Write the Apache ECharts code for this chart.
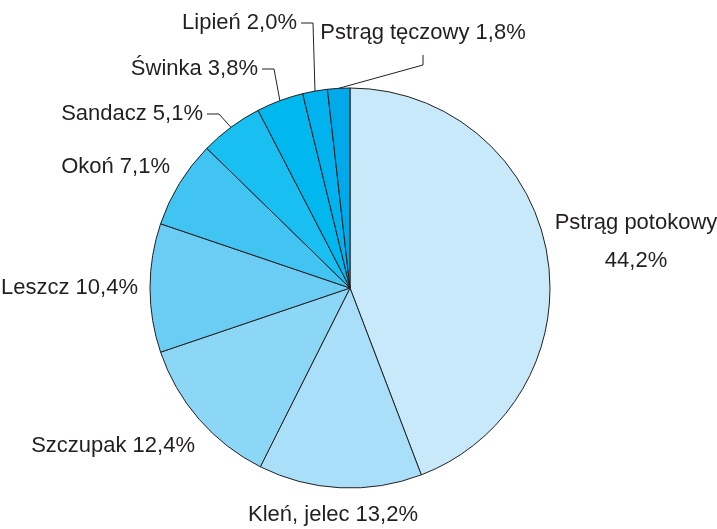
<!DOCTYPE html>
<html>
<head>
<meta charset="utf-8">
<script src="https://cdn.jsdelivr.net/npm/echarts@6/dist/echarts.min.js"></script>
<style>
  html, body { margin: 0; padding: 0; background: #fff; }
  #chart { width: 717px; height: 529px; }
</style>
</head>
<body>
<div id="chart"></div>
<script>
// kategorie i udziały (%)
const names = ['Pstrąg potokowy', 'Kleń, jelec', 'Szczupak', 'Leszcz', 'Okoń', 'Sandacz', 'Świnka', 'Lipień', 'Pstrąg tęczowy']
const values = [44.2, 13.2, 12.4, 10.4, 7.1, 5.1, 3.8, 2.0, 1.8]
const colors = ['#c7e9f9', '#a9dff8', '#8dd7f6', '#6ccdf4', '#42c4f2', '#18bff0', '#00b7ee', '#00b2ed', '#00a9ea']

// położenie etykiet: [x, y, align, leader]
const labelPos = [
  [636, 242, 'center', null],
  [333, 515, 'center', null],
  [195, 446, 'right', null],
  [138, 288, 'right', null],
  [170, 167, 'right', null],
  [203, 114, 'right', 'side'],
  [258, 69, 'right', 'side'],
  [297, 23, 'right', 'side'],
  [423, 33, 'center', 'below']
]

const chart = echarts.init(document.getElementById('chart'))

const fmt = v => v.toFixed(1).replace('.', ',') + '%'

const data = names.map((n, i) => ({
  name: n,
  value: values[i],
  itemStyle: { color: colors[i] },
  labelLine: { show: labelPos[i][3] !== null }
}))

chart.setOption({
  animation: false,
  series: [
    {
      type: 'pie',
      center: [350, 288],
      radius: 200,
      startAngle: 90,
      clockwise: true,
      data: data,
      itemStyle: {
        borderColor: '#231f20',
        borderWidth: 1
      },
      emphasis: { disabled: true },
      label: {
        show: true,
        position: 'outside',
        overflow: 'none',
        color: '#231f20',
        fontFamily: '"Liberation Sans Narrow", "Liberation Sans", Arial, sans-serif',
        fontSize: 22,
        lineHeight: 38,
        formatter: p => p.dataIndex === 0 ? p.name + '\n' + fmt(p.value) : p.name + ' ' + fmt(p.value)
      },
      labelLine: {
        show: true,
        length: 10,
        length2: 10,
        lineStyle: { color: '#231f20', width: 1 }
      },
      labelLayout: params => {
        const lp = labelPos[params.dataIndex]
        const out = { x: lp[0], y: lp[1], align: lp[2], verticalAlign: 'middle' }
        const p0 = params.labelLinePoints ? params.labelLinePoints[0] : null
        if (lp[3] === 'side' && p0) {
          const sx = lp[0] + 4
          out.labelLinePoints = [p0, [sx + 12, lp[1]], [sx, lp[1]]]
        } else if (lp[3] === 'below' && p0) {
          out.labelLinePoints = [p0, [lp[0], lp[1] + 32], [lp[0], lp[1] + 22]]
        }
        return out
      }
    }
  ]
})
</script>
</body>
</html>
